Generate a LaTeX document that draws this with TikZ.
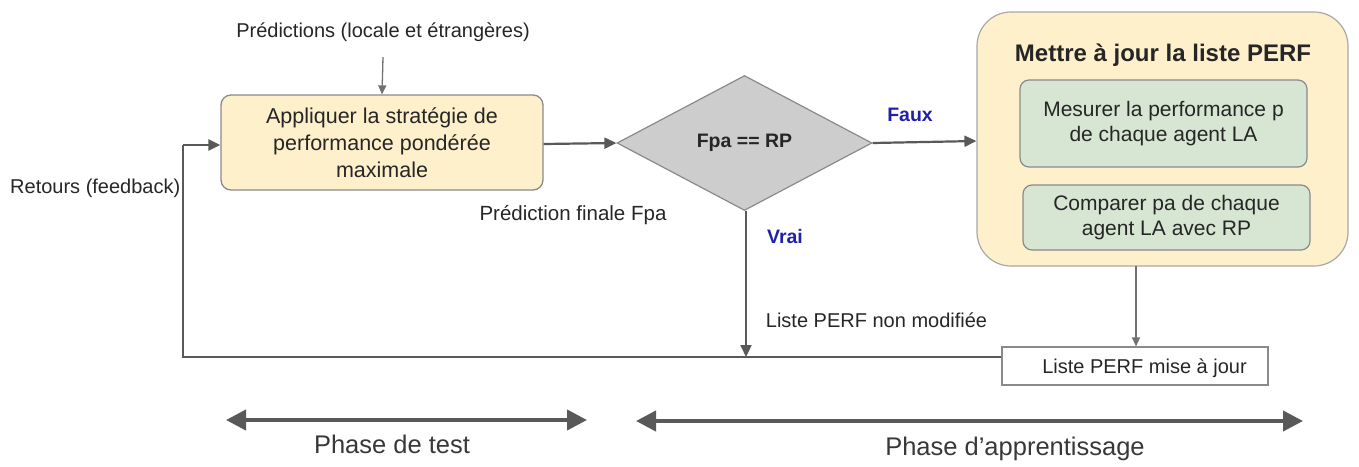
\documentclass[tikz,border=0pt]{standalone}
\usepackage{fontspec}
\setmainfont{Liberation Sans}
\usetikzlibrary{shapes.geometric,arrows.meta}
\definecolor{yel}{HTML}{FDF0CB}
\definecolor{grn}{HTML}{D6E6D2}
\definecolor{dia}{HTML}{CDCDCD}
\definecolor{edge}{HTML}{595959}
\definecolor{bord}{HTML}{8A8A8A}
\definecolor{cbord}{HTML}{A8A8A8}
\definecolor{lbl}{HTML}{2020A8}
\definecolor{ink}{HTML}{262626}
\tikzset{
  px/.style={x=1pt,y=-1pt},
  ybox/.style={draw=bord,fill=yel,rounded corners=10pt,line width=1.3pt,align=center,inner sep=0pt,text=ink,font=\fontsize{21.5}{27}\selectfont},
  gbox/.style={draw=bord,fill=grn,rounded corners=9pt,line width=1.2pt,align=center,inner sep=0pt,text=ink,font=\fontsize{21}{25}\selectfont},
  cont/.style={draw=cbord,fill=yel,rounded corners=34pt,line width=1.2pt,inner sep=0pt},
  dbox/.style={diamond,draw=bord,fill=dia,line width=1.2pt,inner sep=0pt,text=ink,font=\bfseries\fontsize{19.5}{21}\selectfont},
  wbox/.style={draw=bord,fill=white,line width=1.2pt,inner sep=0pt},
  txt/.style={inner sep=0pt,text=ink,font=\fontsize{20}{22}\selectfont},
  blue/.style={inner sep=0pt,text=lbl,font=\bfseries\fontsize{19.5}{22}\selectfont},
  conn/.style={draw=edge,line width=2.2pt,-{Triangle[length=12pt,width=11pt]}},
  thinc/.style={draw=edge!85,line width=1.3pt,-{Triangle[length=9pt,width=8pt]}},
  phase/.style={draw=edge,line width=4pt,{Triangle[length=20pt,width=20pt]}-{Triangle[length=20pt,width=20pt]}},
  ptxt/.style={inner sep=0pt,text=black!78,font=\fontsize{25.5}{28}\selectfont},
}
\begin{document}
\begin{tikzpicture}[px]
\useasboundingbox (0,0) rectangle (1359,466);
\node[txt] (pred) at (383,32) {Prédictions (locale et étrangères)};
\node[ybox,minimum width=322pt,minimum height=95pt] (apply) at (382,142.5) {Appliquer la stratégie de\\performance pondérée\\maximale};
\node[txt,anchor=west] (ret) at (10,188) {Retours (feedback)};
\node[dbox,minimum width=255pt,minimum height=135pt] (dec) at (744.5,143) {Fpa == RP};
\node[txt,font=\fontsize{20.5}{22}\selectfont] (pf) at (573,215) {Prédiction finale Fpa};
\node[cont,minimum width=371pt,minimum height=254pt] (upd) at (1162.5,139) {};
\node[inner sep=0pt,text=ink,font=\bfseries\fontsize{24}{26}\selectfont] (title) at (1163,55) {Mettre à jour la liste PERF};
\node[gbox,minimum width=287pt,minimum height=87pt] (mes) at (1163.5,123.5) {Mesurer la performance p\\de chaque agent LA};
\node[gbox,minimum width=287pt,minimum height=65pt] (cmp) at (1166.5,217.5) {Comparer pa de chaque\\agent LA avec RP};
\node[wbox,minimum width=266pt,minimum height=38pt] (lst) at (1135,366) {};
\node[txt] (lsttxt) at (1144.5,368) {Liste PERF mise à jour};
\node[blue] (faux) at (910,115) {Faux};
\node[blue] (vrai) at (785,237) {Vrai};
\node[txt] (nm) at (876.5,320) {Liste PERF non modifiée};
\coordinate (j) at (746,357);
\coordinate (c1) at (183,357);
\coordinate (c2) at (183,145);
\coordinate (pin) at (383,57);
\draw[thinc] (pin) -- (apply.north);
\draw[conn] (apply.east |- 0,144) -- (dec.west);
\draw[conn] (dec.east) -- (upd.west |- 0,141);
\draw[thinc] (1136,266) -- (lst.north -| 1136,0);
\draw[draw=edge,line width=2.2pt] (lst.west |- c1) -- (c1) -- (c2);
\draw[conn] (c2) -- (apply.west |- c2);
\draw[conn] (dec.south -| j) -- (j);
\coordinate (p1a) at (226,420); \coordinate (p1b) at (587,420);
\coordinate (p2a) at (636,421); \coordinate (p2b) at (1303,421);
\draw[phase] (p1a) -- (p1b);
\draw[phase] (p2a) -- (p2b);
\node[ptxt] (ph1) at (392,444) {Phase de test};
\node[ptxt] (ph2) at (1015,449) {Phase d’apprentissage};
\end{tikzpicture}
\end{document}
